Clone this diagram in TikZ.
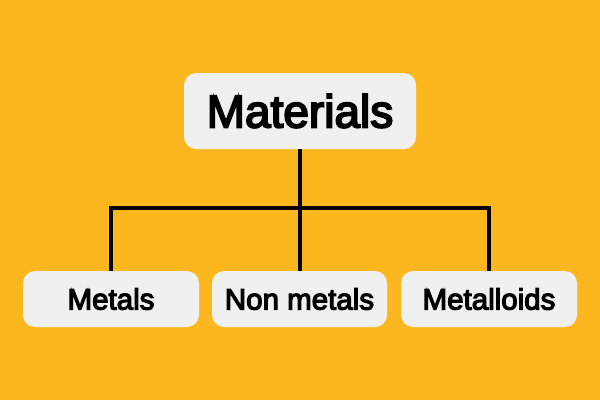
\documentclass[tikz,border=0pt]{standalone}
\usepackage{fontspec}
\setmainfont{Liberation Sans}
\newfontfamily\medfont{Liberation Sans}[FakeBold=4]
\usepackage{tikz}

\definecolor{bgorange}{HTML}{FDB71E}
\definecolor{boxgrey}{HTML}{F0F0F0}

\tikzset{
  box/.style={fill=boxgrey, rounded corners=12pt, inner sep=0pt},
  link/.style={line width=3.5pt, black}
}

\begin{document}
\begin{tikzpicture}[x=1pt, y=-1pt]
      \fill[bgorange] (0,0) rectangle (600,400);

      \node[box, minimum width=232pt, minimum height=76pt, font=\medfont\fontsize{46}{50}\selectfont] (mat) at (300,111) {Materials};

      \node[box, minimum width=176pt, minimum height=56pt, font=\medfont\fontsize{29.5}{32}\selectfont] (met) at (111,299) {Metals};
      \node[box, minimum width=175pt, minimum height=56pt, font=\medfont\fontsize{29.5}{32}\selectfont] (non) at (299.5,299) {Non metals};
      \node[box, minimum width=176pt, minimum height=56pt, font=\medfont\fontsize{29.5}{32}\selectfont] (mlo) at (489,299) {Metalloids};

      \coordinate (j) at (300,208);
      \draw[link] (mat.south) -- (j);
      \draw[link] (met.north -| 111,0) |- (j) -| (mlo.north);
      \draw[link] (j) -- (non.north -| j);
\end{tikzpicture}
\end{document}
